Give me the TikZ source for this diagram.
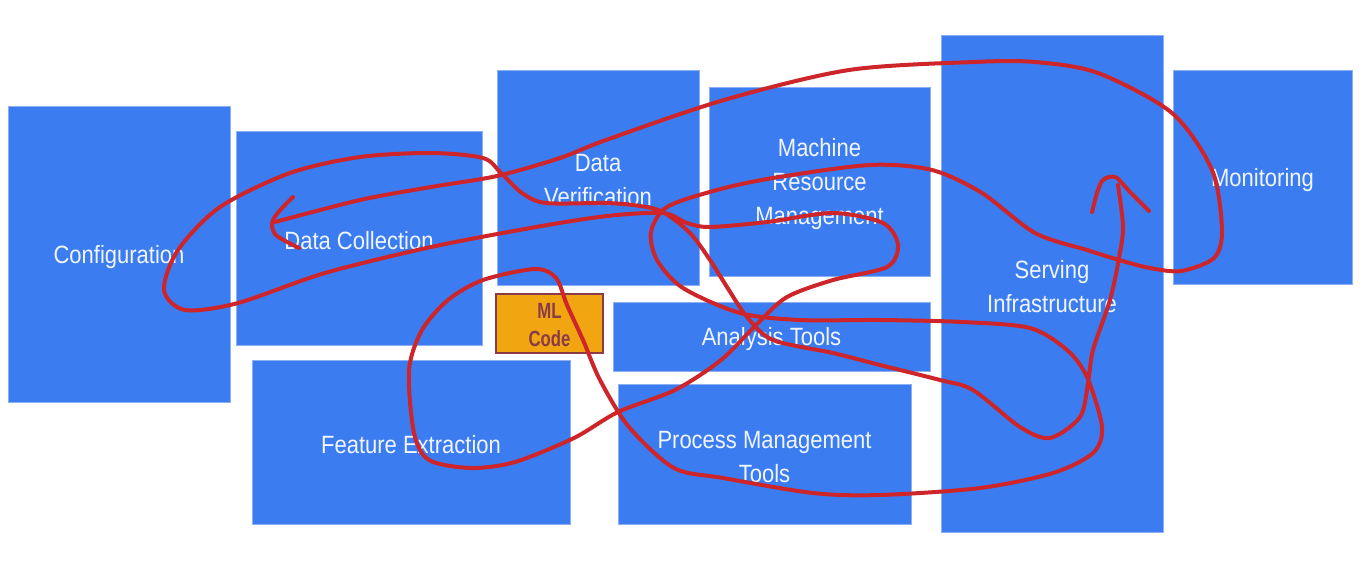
\documentclass[tikz,border=0pt]{standalone}
\usepackage{fontspec}
\setmainfont{Liberation Sans}[FakeStretch=0.88]
\newfontfamily\mlfont{Liberation Sans}[FakeStretch=0.76]
\definecolor{boxblue}{RGB}{59,124,240}
\definecolor{boxedge}{RGB}{140,175,245}
\definecolor{scrib}{RGB}{205,37,42}
\definecolor{mlfill}{RGB}{240,165,17}
\definecolor{mledge}{RGB}{139,58,74}
\definecolor{txt}{RGB}{240,245,255}
\begin{document}
\begin{tikzpicture}[x=1pt,y=-1pt,
  blk/.style={rectangle, fill=boxblue, draw=boxedge, line width=0.8pt, inner sep=0pt},
  lbl/.style={text=txt, align=center, inner sep=0pt, yshift=-3pt, font=\fontsize{25}{34}\selectfont},
  mlbox/.style={rectangle, fill=mlfill, draw=mledge, line width=2pt, inner sep=0pt},
  mllbl/.style={text=mledge, align=center, inner sep=0pt, yshift=-1.5pt, font=\mlfont\bfseries\fontsize{22}{28}\selectfont},
  scribble/.style={draw=scrib, line width=4pt, line cap=round, line join=round}]
\useasboundingbox[fill=white] (0,0) rectangle (1364,566);

\node[blk, minimum width=222pt, minimum height=296pt, label={[lbl]center:Configuration}] (conf) at (119,254) {};
\node[blk, minimum width=246pt, minimum height=214pt, label={[lbl]center:Data Collection}] (dc) at (359,238) {};
\node[blk, minimum width=202pt, minimum height=215pt, label={[lbl]center:Data\\Verification}] (dv) at (598,177.5) {};
\node[blk, minimum width=221pt, minimum height=189pt, label={[lbl]center:Machine\\Resource\\Management}] (mrm) at (819.5,181.5) {};
\node[blk, minimum width=222pt, minimum height=497pt, label={[lbl]center:Serving\\Infrastructure}] (serv) at (1052,283.5) {};
\node[blk, minimum width=179pt, minimum height=214pt, label={[lbl]center:Monitoring}] (mon) at (1262.5,177) {};
\node[mlbox, minimum width=107pt, minimum height=59pt, label={[mllbl]center:ML\\Code}] (ml) at (549.5,323.5) {};
\node[blk, minimum width=317pt, minimum height=69pt, label={[lbl]center:Analysis Tools}] (at) at (771.5,336.5) {};
\node[blk, minimum width=318pt, minimum height=164pt, label={[lbl]center:Feature Extraction}] (fe) at (411,442) {};
\node[blk, minimum width=293pt, minimum height=140pt, label={[lbl]center:Process Management\\Tools}] (pm) at (764.5,454) {};

\draw[scribble] plot[smooth, tension=0.5] coordinates {
(275,222) (360,200) (431,187) (497,176) (560,158) (606,140) (724,100) (849,70) (973,62) (1035,62) (1098,73) (1172,113) (1212,170) (1222,230) (1214,258) (1181,271) (1150,268) (1119,260) (1087,250) (1035,233) (982,193) (932,170) (870,165) (773,178) (717,190) (667,207) (651,232) (657,260) (683,288) (740,313) (800,320) (880,320) (963,322) (1030,328) (1067,350) (1087,377) (1102,427) (1093,453) (1053,473) (980,488) (880,495) (813,493) (723,478) (674,468) (629,427) (600,380) (583,340) (567,305) (556,278) (535,269) (483,280) (448,300) (422,330) (409,370) (414,433) (429,460) (471,468) (515,462) (574,438) (618,412) (675,390) (721,360) (758,323) (787,297) (833,280) (887,267) (898,245) (883,223) (833,213) (767,222) (710,227) (687,223) (663,213) (607,216) (536,227) (431,247) (325,273) (238,303) (185,310) (164,290) (178,250) (220,207) (290,173) (360,157) (431,153) (483,158) (501,173) (522,193) (546,203) (607,203) (640,206) (663,212) (690,233) (710,260) (727,287) (747,317) (773,340) (833,353) (880,365) (940,380) (973,390) (1020,427) (1050,438) (1080,417) (1088,383) (1093,350) (1110,300) (1119,258) (1123,227) (1118,185)};
\draw[scribble] plot[smooth, tension=0.5] coordinates {(293,197) (283,207) (274,218) (272,226) (277,236) (299,248)};
\draw[scribble] plot[smooth, tension=0.5] coordinates {(1092,212) (1097,193) (1102,181) (1109,177) (1117,178) (1130,192) (1149,211)};
\end{tikzpicture}
\end{document}
